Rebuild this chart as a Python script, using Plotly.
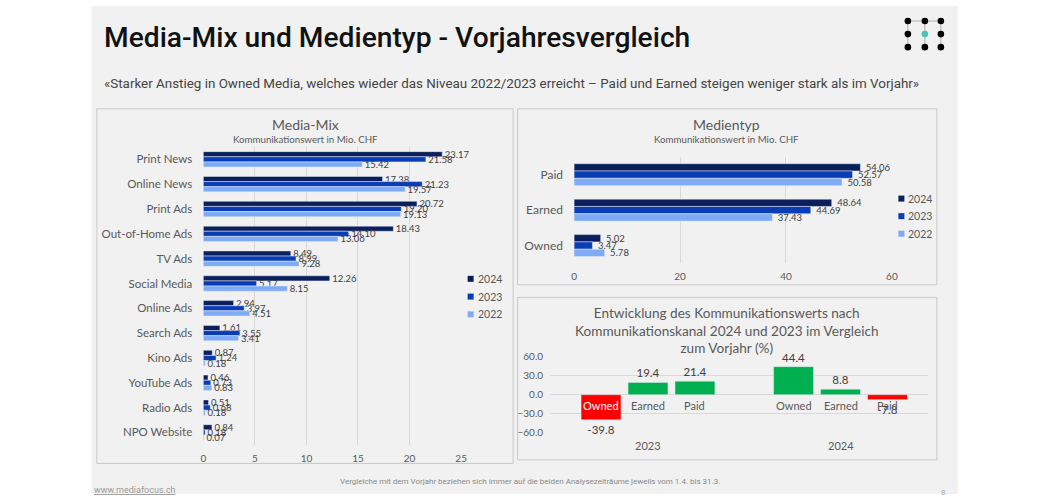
import plotly.graph_objects as go

W, H = 1050, 500
# mapping from reference-picture pixels to page pixels (compensates capture scaling)
SX, OX = 0.992, 2.6
SY, OY = 0.973, 7.0
def px(x): return ((x - OX) / SX) / W
def py(y): return 1 - ((y - OY) / SY) / H

# ---------------- data ----------------
years = ["2024", "2023", "2022"]
year_colors = ["#0b1f5c", "#0a3db3", "#7eaaf6"]

mix_categories = ["Print News", "Online News", "Print Ads", "Out-of-Home Ads", "TV Ads",
                  "Social Media", "Online Ads", "Search Ads", "Kino Ads", "YouTube Ads",
                  "Radio Ads", "NPO Website"]
mix_2024 = [23.17, 17.38, 20.72, 18.43, 8.49, 12.26, 2.94, 1.61, 0.87, 0.46, 0.51, 0.84]
mix_2023 = [21.58, 21.23, 19.20, 14.10, 8.99, 5.17, 3.97, 3.55, 1.24, 0.73, 0.68, 0.18]
mix_2022 = [15.42, 19.57, 19.13, 13.06, 9.28, 8.15, 4.51, 3.41, 0.18, 0.83, 0.18, 0.07]
mix_ticks = [0, 5, 10, 15, 20, 25]

type_categories = ["Paid", "Earned", "Owned"]
type_2024 = [54.06, 48.64, 5.02]
type_2023 = [52.57, 44.69, 3.47]
type_2022 = [50.58, 37.43, 5.78]
type_ticks = [0, 20, 40, 60]

dev_groups = ["2023", "2024"]
dev_channels = ["Owned", "Earned", "Paid"]
dev_2023 = [-39.8, 19.4, 21.4]
dev_2024 = [44.4, 8.8, -7.8]
dev_ticks = [-60, -30, 0, 30, 60]

TXT = "#595959"
VAL = "#404040"
FONT = "Lato"
GRID = "#d9d9d9"
SLIDE = "#f1f1f1"

fig = go.Figure()

# ---------------- Media-Mix ----------------
for yr, col, vals in zip(years, year_colors, [mix_2024, mix_2023, mix_2022]):
    fig.add_trace(go.Bar(
        y=mix_categories, x=vals, orientation="h", name=yr,
        marker=dict(color=col), text=[f" {v:.2f}" for v in vals],
        textposition="outside", textfont=dict(size=9.5, color=VAL, family=FONT),
        cliponaxis=False, constraintext="none", showlegend=False,
        xaxis="x", yaxis="y"))

# ---------------- Medientyp ----------------
for yr, col, vals in zip(years, year_colors, [type_2024, type_2023, type_2022]):
    fig.add_trace(go.Bar(
        y=type_categories, x=vals, orientation="h", name=yr,
        marker=dict(color=col), text=[f" {v:.2f}" for v in vals],
        textposition="outside", textfont=dict(size=9.5, color=VAL, family=FONT),
        cliponaxis=False, constraintext="none", showlegend=False,
        xaxis="x2", yaxis="y2"))

# ---------------- Entwicklung ----------------
step = len(dev_channels) + 1.1
dev_x, dev_v, dev_lab = [], [], []
for gi, vals in enumerate([dev_2023, dev_2024]):
    for ci, v in enumerate(vals):
        dev_x.append(gi * step + ci)
        dev_v.append(v)
        dev_lab.append(dev_channels[ci])
fig.add_trace(go.Bar(
    x=dev_x, y=dev_v, width=0.85,
    marker=dict(color=["#00b050" if v >= 0 else "#ff0000" for v in dev_v]),
    text=[f"{v:.1f}" for v in dev_v], textposition="outside",
    textfont=dict(size=11.5, color=VAL, family=FONT),
    cliponaxis=False, constraintext="none", showlegend=False,
    xaxis="x3", yaxis="y3"))

annotations = []
for xv, v, lab in zip(dev_x, dev_v, dev_lab):
    annotations.append(dict(x=xv, y=0, xref="x3", yref="y3", text=lab, showarrow=False,
                            xanchor="center", yanchor="middle", yshift=-10.5,
                            font=dict(size=11, family=FONT,
                                      color="white" if v < -25 else TXT)))
for gi, g in enumerate(dev_groups):
    annotations.append(dict(x=gi * step + (len(dev_channels) - 1) / 2, y=py(445),
                            xref="x3", yref="paper", text=g, showarrow=False,
                            xanchor="center", yanchor="middle",
                            font=dict(size=11, family=FONT, color=TXT)))

def note(x, y, text, size, color=TXT, family=FONT, xanchor="center", **kw):
    return dict(x=px(x), y=py(y), xref="paper", yref="paper", text=text, showarrow=False,
                xanchor=xanchor, yanchor="middle",
                font=dict(size=size, family=family, color=color, **kw))

annotations += [
    note(305, 125, "Media-Mix", 14),
    note(305, 140, "Kommunikationswert in Mio. CHF", 9.7),
    note(727, 125, "Medientyp", 14),
    note(727, 140, "Kommunikationswert in Mio. CHF", 9.7),
    dict(x=px(727), y=py(331), xref="paper", yref="paper",
         text="Entwicklung des Kommunikationswerts nach<br>Kommunikationskanal 2024 und 2023 im Vergleich<br>zum Vorjahr (%)",
         showarrow=False, align="center", xanchor="center", yanchor="middle",
         font=dict(size=13.6, family=FONT, color=TXT)),
    note(102, 38, "Media-Mix und Medientyp - Vorjahresvergleich", 28.2, "#111111",
         "Roboto", xanchor="left", weight=500),
    note(102, 84, "«Starker Anstieg in Owned Media, welches wieder das Niveau 2022/2023 erreicht – Paid und Earned steigen weniger stark als im Vorjahr»",
         13.4, "#444444", "Roboto", xanchor="left"),
    note(92, 490, "www.mediafocus.ch", 9, "#9a9a9a", "Roboto", xanchor="left",
         lineposition="under"),
    note(530, 481, "Vergleiche mit dem Vorjahr beziehen sich immer auf die beiden Analysezeiträume jeweils vom 1.4. bis 31.3.",
         8, "#8a8a8a", "Roboto"),
    note(944, 492, "8", 8, "#aaaaaa", "Roboto"),
]

# ---------------- shapes ----------------
shapes = [
    dict(type="rect", xref="paper", yref="paper", x0=px(91), x1=px(958), y0=0, y1=1,
         fillcolor=SLIDE, line=dict(width=0), layer="below"),
    dict(type="rect", xref="paper", yref="paper", x0=px(96.5), x1=px(513), y0=py(463), y1=py(109.5),
         line=dict(color="#c8c8c8", width=1), layer="below"),
    dict(type="rect", xref="paper", yref="paper", x0=px(517.5), x1=px(937), y0=py(285), y1=py(109.5),
         line=dict(color="#c8c8c8", width=1), layer="below"),
    dict(type="rect", xref="paper", yref="paper", x0=px(517.5), x1=px(937), y0=py(459.5), y1=py(297.5),
         line=dict(color="#c8c8c8", width=1), layer="below"),
]

# manual legends (small squares + labels)
for (lx0, ly0, dy) in [(467.5, 279, 17.7), (898.5, 199, 17.5)]:
    for k, (yr, col) in enumerate(zip(years, year_colors)):
        yc = ly0 + k * dy
        shapes.append(dict(type="rect", xref="paper", yref="paper",
                           x0=px(lx0), x1=px(lx0 + 6), y0=py(yc + 3), y1=py(yc - 3),
                           fillcolor=col, line=dict(width=0)))
        annotations.append(note(lx0 + 8, yc, yr, 10.5, TXT, FONT, xanchor="left"))

# logo
lx = [908, 925, 941]
ly = [22, 35, 48]
shapes.append(dict(type="line", xref="paper", yref="paper", x0=px(lx[0]), x1=px(lx[2]),
                   y0=py(ly[0]), y1=py(ly[0]), line=dict(color="#b0b0b0", width=1)))
for xx in lx:
    shapes.append(dict(type="line", xref="paper", yref="paper", x0=px(xx), x1=px(xx),
                       y0=py(ly[0]), y1=py(ly[2]), line=dict(color="#b0b0b0", width=1)))
r = 3.3
for i, xx in enumerate(lx):
    for j, yy in enumerate(ly):
        c = "#4cc3b3" if (i == 1 and j == 1) else "#000000"
        shapes.append(dict(type="circle", xref="paper", yref="paper",
                           x0=px(xx - r), x1=px(xx + r), y0=py(yy + r), y1=py(yy - r),
                           fillcolor=c, line=dict(width=0)))

tickfont = dict(size=10, family=FONT, color=TXT)

fig.update_layout(
    width=W, height=H, margin=dict(l=0, r=0, t=0, b=0),
    paper_bgcolor="white", plot_bgcolor="rgba(0,0,0,0)",
    barmode="group", showlegend=False,
    font=dict(family=FONT, color=TXT),
    xaxis=dict(domain=[px(203), px(461)], range=[0, 25], tickvals=mix_ticks,
               showgrid=True, gridcolor=GRID, zeroline=False, showline=False,
               tickfont=tickfont, anchor="y", ticklabelstandoff=6),
    yaxis=dict(domain=[py(444.5), py(147.5)], categoryorder="array",
               categoryarray=mix_categories, autorange="reversed", showgrid=False,
               tickfont=dict(size=11.5, family=FONT, color=TXT), anchor="x",
               ticklabelstandoff=10),
    xaxis2=dict(domain=[px(574), px(892)], range=[0, 60], tickvals=type_ticks,
                showgrid=True, gridcolor=GRID, zeroline=False, showline=False,
                tickfont=tickfont, anchor="y2", ticklabelstandoff=6),
    yaxis2=dict(domain=[py(263.5), py(157.5)], categoryorder="array",
                categoryarray=type_categories, autorange="reversed", showgrid=False,
                tickfont=dict(size=12, family=FONT, color=TXT), anchor="x2",
                ticklabelstandoff=10),
    xaxis3=dict(domain=[px(550), px(928)], range=[-1.085, 6.96], showgrid=False,
                zeroline=False, showticklabels=False, anchor="y3"),
    yaxis3=dict(domain=[py(432.3), py(356.7)], range=[-60, 60], tickvals=dev_ticks,
                tickformat=".1f", showgrid=True, gridcolor=GRID, zeroline=False,
                tickfont=tickfont, anchor="x3", ticklabelstandoff=6),
    bargap=0.38,
    annotations=annotations, shapes=shapes,
)

a = (91 - OX) / SX
b = (958 - OX) / SX
bg = (f"linear-gradient(to right, #ffffff 0px, #ffffff {a:.1f}px, {SLIDE} {a:.1f}px, "
      f"{SLIDE} {b:.1f}px, #ffffff {b:.1f}px)")
fig.write_html("out.html", config={"displayModeBar": False},
               post_script=("document.body.style.margin='0';"
                            "document.body.style.overflow='hidden';"
                            f"document.documentElement.style.background='{bg}';"))
